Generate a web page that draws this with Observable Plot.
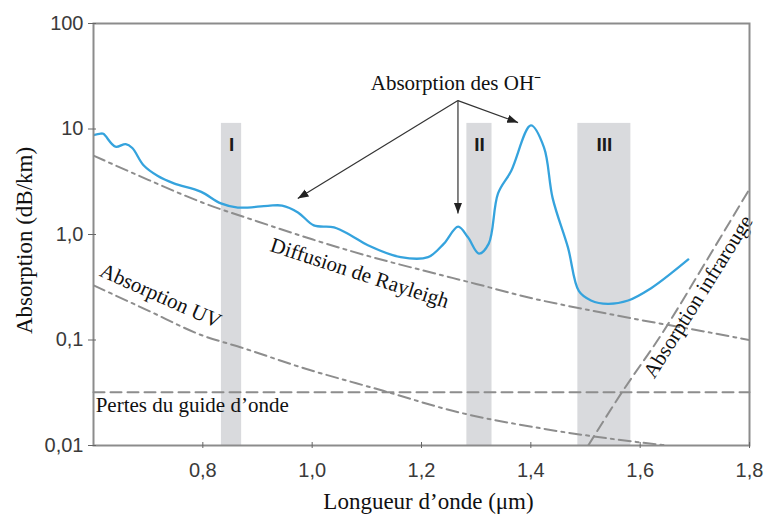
<!DOCTYPE html>
<html><head><meta charset="utf-8">
<script src="https://cdn.jsdelivr.net/npm/d3@7"></script>
<script src="https://cdn.jsdelivr.net/npm/@observablehq/plot@0.6"></script>
<style>body{margin:0;background:#fff}#chart svg{display:block}</style>
</head><body><div id="chart"></div>
<script>
// Measured fibre attenuation (blue curve)
const wavelength = [0.598,0.613,0.618,0.640,0.659,0.671,0.692,0.717,0.747,0.796,0.833,0.864,0.919,0.945,0.974,1.003,1.040,1.071,1.102,1.162,1.212,1.241,1.267,1.285,1.305,1.323,1.340,1.364,1.400,1.424,1.440,1.468,1.488,1.510,1.541,1.578,1.620,1.657,1.688];
const attenuation = [8.7,9.05,9.0,6.8,7.2,6.6,4.5,3.6,3.05,2.55,1.97,1.8,1.87,1.88,1.62,1.22,1.17,0.98,0.79,0.61,0.61,0.82,1.19,0.94,0.66,0.82,2.45,4.0,10.8,6.7,2.2,0.75,0.29,0.237,0.22,0.237,0.31,0.43,0.58];
// Rayleigh scattering
const rayleighX = [0.6,0.7,0.8,0.9,1.0,1.1,1.2,1.3,1.4,1.5,1.6,1.7,1.8];
const rayleighY = [5.6,3.3,2.0,1.33,0.9,0.63,0.46,0.34,0.25,0.195,0.155,0.125,0.1];
// UV absorption
const uvX = [0.6,0.7,0.8,0.87,0.98,1.13,1.27,1.42,1.6,1.65];
const uvY = [0.33,0.19,0.11,0.085,0.055,0.033,0.0205,0.0145,0.0107,0.01];
// Infrared absorption
const irX = [1.505,1.565,1.64,1.72,1.8];
const irY = [0.01,0.031,0.115,0.55,2.7];
// Waveguide losses
const guideX = [0.6,1.8];
const guideY = [0.032,0.032];
// Transmission windows
const windowNames = ["I","II","III"];
const windowStart = [0.834,1.283,1.486];
const windowEnd = [0.871,1.329,1.583];
const windowTop = 11.3;
// Ticks
const xTicks = [0.8,1.0,1.2,1.4,1.6,1.8];
const xTickLabels = ["0,8","1,0","1,2","1,4","1,6","1,8"];
const yTicks = [0.01,0.1,1,10,100];
const yTickLabels = ["0,01","0,1","1,0","10","100"];
// OH- arrows (from label to peaks)
const arrowFromX = [1.2667,1.2667,1.2667];
const arrowFromY = [18.6,18.6,18.6];
const arrowToX = [0.9736,1.2667,1.3766];
const arrowToY = [2.19,1.58,11.5];

const curve = wavelength.map((x,i)=>({x, y: attenuation[i]}));
const rayleigh = rayleighX.map((x,i)=>({x, y: rayleighY[i]}));
const uv = uvX.map((x,i)=>({x, y: uvY[i]}));
const ir = irX.map((x,i)=>({x, y: irY[i]}));
const guide = guideX.map((x,i)=>({x, y: guideY[i]}));
const windows = windowNames.map((name,i)=>({name, start: windowStart[i], end: windowEnd[i]}));
const arrows = arrowFromX.map((x,i)=>({x1:x, y1:arrowFromY[i], x2:arrowToX[i], y2:arrowToY[i]}));

const serif = "'Liberation Serif','Times New Roman',serif";
const sans = "'Liberation Sans',Arial,sans-serif";
const gray = "#8d8d8d";

const plot = Plot.plot({
  width: 769, height: 520,
  marginLeft: 93, marginRight: 20, marginTop: 23, marginBottom: 75,
  style: {fontFamily: sans, fontSize: "20px", color: "#3a3a3a", background: "#fff"},
  x: {domain: [0.6, 1.8]},
  y: {type: "log", domain: [0.01, 100]},
  marks: [
    Plot.rect(windows, {x1: "start", x2: "end", y1: 0.01, y2: windowTop, fill: "#d9dadd"}),
    Plot.line(guide, {x: "x", y: "y", stroke: gray, strokeWidth: 2, strokeDasharray: "11,6"}),
    Plot.line(rayleigh, {x: "x", y: "y", stroke: gray, strokeWidth: 2, strokeDasharray: "12,5,3,5", curve: "monotone-x", clip: true}),
    Plot.line(uv, {x: "x", y: "y", stroke: gray, strokeWidth: 2, strokeDasharray: "12,5,3,5", curve: "monotone-x", clip: true}),
    Plot.line(ir, {x: "x", y: "y", stroke: gray, strokeWidth: 2, strokeDasharray: "11,6", curve: "monotone-x", clip: true}),
    Plot.line(curve, {x: "x", y: "y", stroke: "#35a3dd", strokeWidth: 2.3, curve: "catmull-rom", clip: true}),
    Plot.text(windows, {x: d => (d.start + d.end) / 2, y: 7.0, text: "name", fontWeight: "bold", fontSize: 19, fill: "#1a1a1a", fontFamily: sans}),
    Plot.link(arrows, {x1: "x1", y1: "y1", x2: "x2", y2: "y2", stroke: "#333", strokeWidth: 1.2, markerEnd: "arrow"}),
    Plot.text(["Absorption des OH⁻"], {x: 1.263, y: 27, fontFamily: serif, fontSize: 21, fill: "#111"}),
    Plot.text(["Diffusion de Rayleigh"], {x: 1.087, y: 0.43, rotate: 18, fontFamily: serif, fontSize: 21, fill: "#111"}),
    Plot.text(["Absorption UV"], {x: 0.7227, y: 0.262, rotate: 24, fontFamily: serif, fontSize: 21, fill: "#111"}),
    Plot.text(["Absorption infrarouge"], {x: 1.706, y: 0.258, rotate: -58, fontFamily: serif, fontSize: 21, fill: "#111"}),
    Plot.text(["Pertes du guide d’onde"], {x: 0.604, y: 0.0239, textAnchor: "start", fontFamily: serif, fontSize: 21, fill: "#111"}),
    Plot.frame({stroke: "#8c8c8c", strokeWidth: 2}),
    Plot.axisX({ticks: xTicks, tickFormat: d => xTickLabels[xTicks.indexOf(d)], tickSize: 6, dy: -3, tickPadding: 14, stroke: "#666", label: null}),
    Plot.axisY({ticks: yTicks, tickFormat: d => yTickLabels[yTicks.indexOf(d)], tickSize: 8, dx: 3, tickPadding: 5, stroke: "#666", label: null}),
    Plot.text(["Absorption (dB/km)"], {frameAnchor: "left", dx: -69, dy: 6, rotate: -90, textAnchor: "middle", lineAnchor: "middle", fontFamily: serif, fontSize: 23, fill: "#111"}),
    Plot.text(["Longueur d’onde (μm)"], {frameAnchor: "bottom", dx: 7, dy: 56, textAnchor: "middle", lineAnchor: "middle", fontFamily: serif, fontSize: 23, fill: "#111"})
  ]
});

plot.querySelectorAll("marker").forEach(m => {
  m.setAttribute("viewBox", "-10 -5 10 10");
  m.setAttribute("markerWidth", "9");
  m.setAttribute("markerHeight", "9");
  m.setAttribute("fill", "#222");
  m.setAttribute("stroke", "none");
  const p = m.querySelector("path");
  if (p) p.setAttribute("d", "M-10,-3.8L0,0L-10,3.8Z");
});

document.getElementById("chart").appendChild(plot);
</script>
</body></html>
